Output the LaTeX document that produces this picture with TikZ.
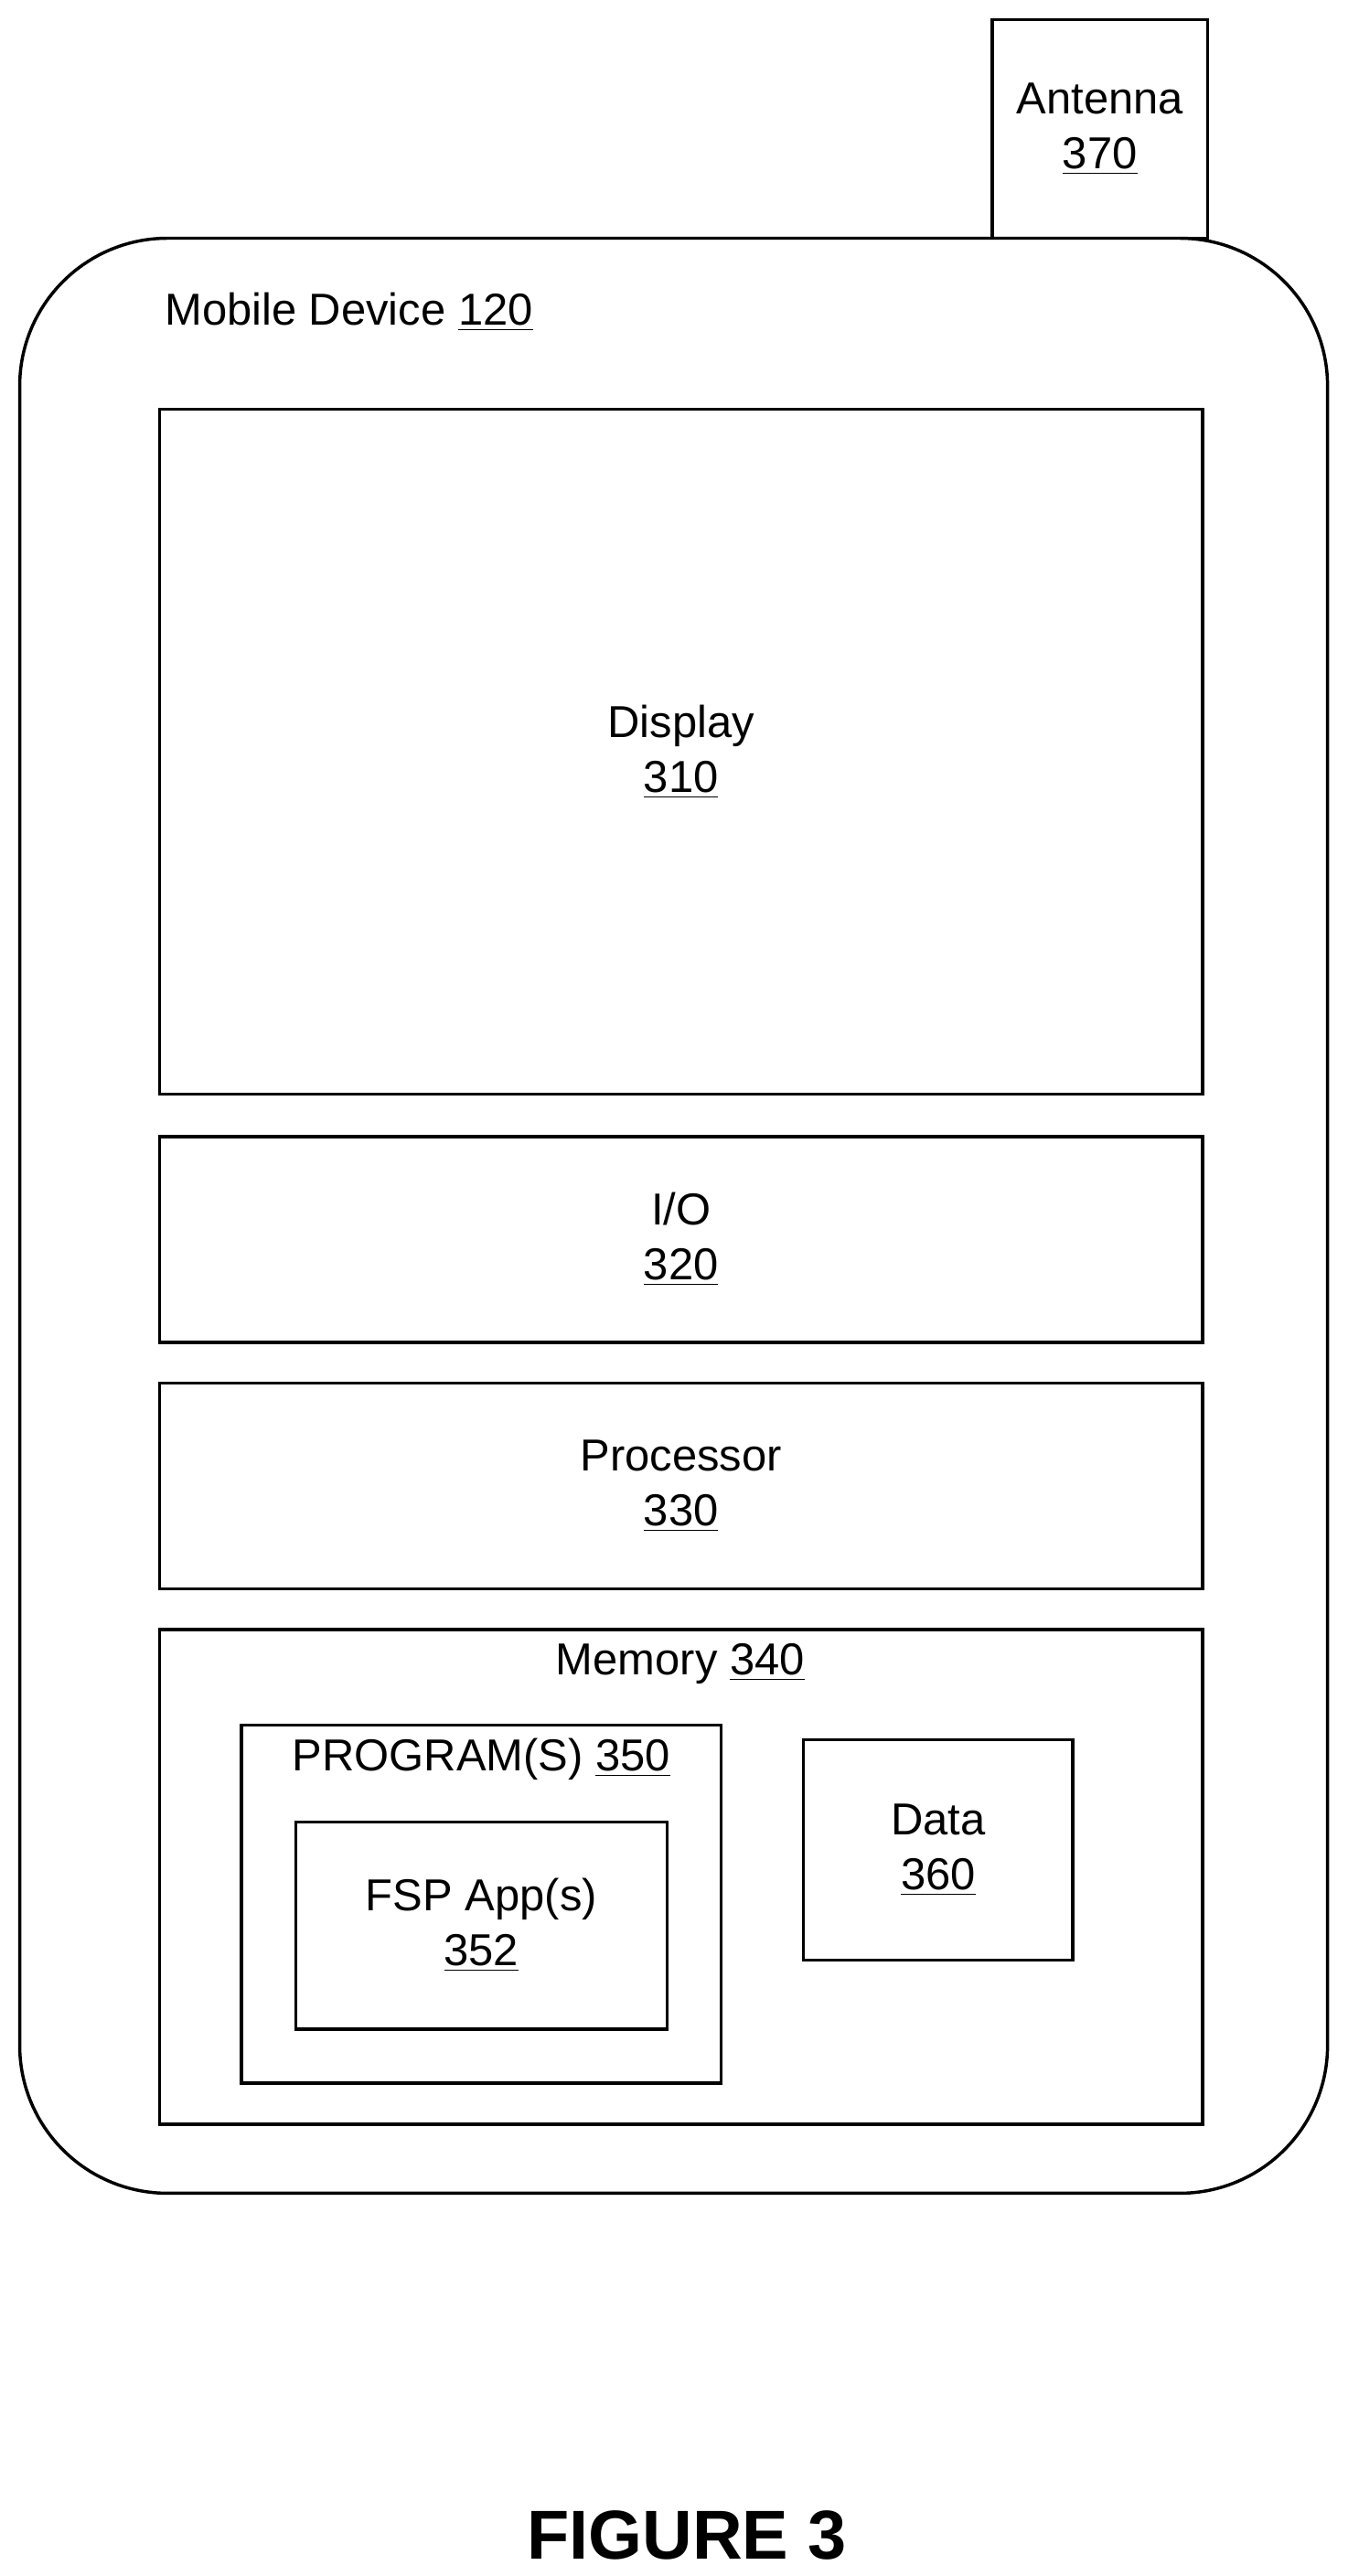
\documentclass[tikz,border=0pt]{standalone}
\usepackage{fontspec}
\setmainfont{Liberation Sans}

\begin{document}
\begin{tikzpicture}[x=0.02cm,y=-0.02cm,
    box/.style={draw, line width=1.1pt, inner sep=0pt},
    txt/.style={font=\fontsize{15.5}{19}\selectfont, align=center, inner sep=0pt}]
    \useasboundingbox (0,0) rectangle (820,1568);

    % Antenna and device body
    \node[box, minimum width=131*0.02cm, minimum height=133*0.02cm] (antenna) at (669.5,78.5) {};
    \node[txt] (antennatxt) at (669.5,78.5) {Antenna\\\underline{370}};
    \draw[line width=1.1pt, fill=white, rounded corners=1.8cm] (12,145) rectangle (808,1335);
    \node[txt, anchor=west] (device) at (100,190) {Mobile Device \underline{120}};

    % Display, I/O, processor
    \node[box, minimum width=635*0.02cm, minimum height=417*0.02cm] (display) at (414.5,457.5) {};
    \node[txt] at (display) {Display\\\underline{310}};
    \node[box, minimum width=635*0.02cm, minimum height=125*0.02cm] (io) at (414.5,754.5) {};
    \node[txt] at (io) {I/O\\\underline{320}};
    \node[box, minimum width=635*0.02cm, minimum height=125*0.02cm] (proc) at (414.5,904.5) {};
    \node[txt] at (proc) {Processor\\\underline{330}};

    % Memory
    \node[box, minimum width=635*0.02cm, minimum height=301*0.02cm] (memory) at (414.5,1142.5) {};
    \node[txt] (memlabel) at (414,1013) {Memory \underline{340}};
    \node[box, minimum width=292*0.02cm, minimum height=218*0.02cm] (program) at (293,1159) {};
    \node[txt] (proglabel) at (293,1071) {PROGRAM(S) \underline{350}};
    \node[box, minimum width=226*0.02cm, minimum height=126*0.02cm] (fsp) at (293,1172) {};
    \node[txt] at (fsp) {FSP App(s)\\\underline{352}};
    \node[box, minimum width=164*0.02cm, minimum height=134*0.02cm] (data) at (571,1126) {};
    \node[txt] at (data) {Data\\\underline{360}};

    \node[font=\fontsize{24}{29}\selectfont\bfseries] (fig) at (418,1543) {FIGURE 3};
\end{tikzpicture}
\end{document}
